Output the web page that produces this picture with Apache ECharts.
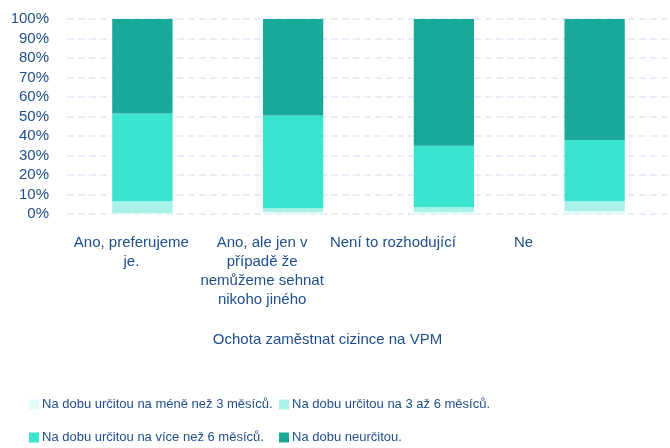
<!DOCTYPE html>
<html>
<head>
<meta charset="utf-8">
<script src="https://cdn.jsdelivr.net/npm/echarts@6/dist/echarts.min.js"></script>
<style>
  html, body { margin: 0; padding: 0; background: #fff; }
  #chart { width: 670px; height: 448px; }
</style>
</head>
<body>
<div id="chart"></div>
<script>
  // kategorie a hodnoty (v %)
  var categories = ['Ano, preferujeme\nje.', 'Ano, ale jen v\npřípadě že\nnemůžeme sehnat\nnikoho jiného', 'Není to rozhodující', 'Ne'];
  var seriesNames = ['Na dobu určitou na méně než 3 měsíců.', 'Na dobu určitou na 3 až 6 měsíců.', 'Na dobu určitou na více než 6 měsíců.', 'Na dobu neurčitou.'];
  var under3 = [0.5, 1, 1, 1.5];
  var from3to6 = [6, 2, 2.5, 5];
  var over6 = [45, 47.5, 31.5, 31.5];
  var indefinite = [48.5, 49.5, 65, 62];
  var yTicks = [0, 10, 20, 30, 40, 50, 60, 70, 80, 90, 100];

  var colors = ['#e3fbf8', '#a8f2ea', '#3ae5d0', '#1aa898'];
  var textColor = '#1f4e8a';
  var font = "'Liberation Sans', sans-serif";

  var chart = echarts.init(document.getElementById('chart'));

  var values = [under3, from3to6, over6, indefinite];
  var series = seriesNames.map(function (name, i) {
    return {
      name: name,
      type: 'bar',
      stack: 'total',
      barCategoryGap: '60%',
      itemStyle: { color: colors[i] },
      emphasis: { disabled: true },
      data: values[i]
    };
  });

  var legends = seriesNames.map(function (name, i) {
    return {
      data: [name],
      left: i % 2 === 0 ? 24 : 274,
      top: i < 2 ? 393 : 426,
      itemWidth: 10,
      itemHeight: 10,
      itemGap: 0,
      icon: 'rect',
      selectedMode: false,
      textStyle: { color: textColor, fontSize: 13, fontFamily: font, padding: [0, 0, 0, -2] }
    };
  });

  var option = {
    animation: false,
    textStyle: { fontFamily: font },
    grid: [
      { left: 67, right: -9, top: 19, height: 195 },
      { left: 66, width: 523, top: 19, height: 195 }
    ],
    legend: legends,
    xAxis: [
      {
        type: 'category',
        gridIndex: 0,
        data: categories,
        axisLine: { show: false },
        axisTick: { show: false },
        axisLabel: { show: false }
      },
      {
        type: 'category',
        gridIndex: 1,
        data: categories,
        axisLine: { show: false },
        axisTick: { show: false },
        axisLabel: {
          color: textColor,
          fontSize: 15,
          fontFamily: font,
          margin: 19,
          lineHeight: 19,
          interval: 0
        },
        name: 'Ochota zaměstnat cizince na VPM',
        nameLocation: 'middle',
        nameGap: 118,
        nameTextStyle: { color: textColor, fontSize: 15, fontFamily: font }
      }
    ],
    yAxis: [
      {
        type: 'value',
        gridIndex: 0,
        min: yTicks[0],
        max: yTicks[yTicks.length - 1],
        interval: 10,
        axisLabel: {
          color: textColor,
          fontSize: 15,
          fontFamily: font,
          margin: 18,
          formatter: '{value}%'
        },
        splitLine: { lineStyle: { color: '#dde9f8', type: [7, 4], width: 1.5 } }
      },
      {
        type: 'value',
        gridIndex: 1,
        min: 0,
        max: 100,
        show: false
      }
    ],
    series: series
  };

  chart.setOption(option);
</script>
</body>
</html>
